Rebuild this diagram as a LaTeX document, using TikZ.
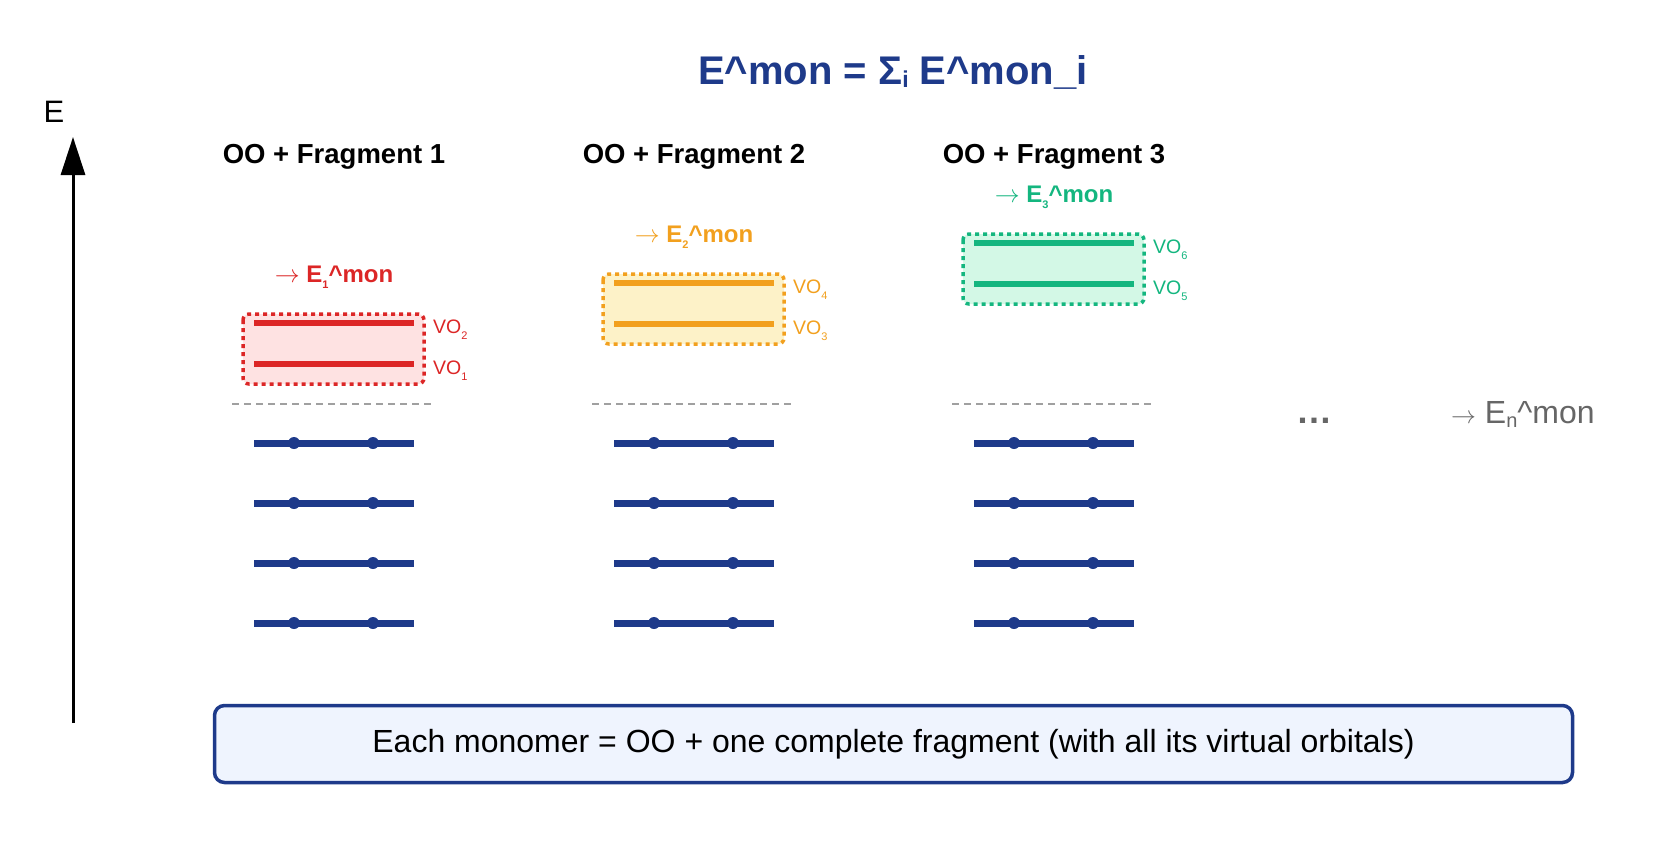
\documentclass[tikz,border=0pt]{standalone}
\usepackage{fontspec}
\setmainfont{Liberation Sans}
\usetikzlibrary{arrows.meta}
\definecolor{navy}{HTML}{1E3A8A}
\definecolor{c0}{HTML}{DC2626}
\definecolor{c0l}{HTML}{FEE2E2}
\definecolor{c1}{HTML}{F2A01E}
\definecolor{c1l}{HTML}{FDF2C8}
\definecolor{c2}{HTML}{14B67F}
\definecolor{c2l}{HTML}{D3F8E6}
\definecolor{sepgray}{HTML}{A0A0A0}
\definecolor{txtgray}{HTML}{666666}
\definecolor{notefill}{HTML}{EFF4FE}
\newcommand{\mysub}[3]{\raisebox{#1}{\fontsize{#2}{#2}\selectfont #3}}
\newcommand{\rarr}{\ensuremath{\rightarrow}}
\begin{document}
\begin{tikzpicture}[x=1pt,y=-1pt,
  titlestyle/.style={font=\fontsize{40}{42}\selectfont\bfseries, text=navy, inner sep=0pt},
  hdr/.style={font=\fontsize{27.5}{30}\selectfont\bfseries, inner sep=0pt},
  sublbl/.style={font=\fontsize{24}{26}\selectfont\bfseries, inner sep=0pt},
  volbl/.style={font=\fontsize{19.5}{21}\selectfont, inner sep=0pt, anchor=base west},
  orb/.style={line width=7pt, draw=navy},
  vobox/.style={line width=3.5pt, dash pattern=on 4pt off 4pt, rounded corners=6pt},
  sepline/.style={draw=sepgray, line width=1.6pt, dash pattern=on 6.5pt off 5.5pt},
  notebox/.style={draw=navy, line width=3.5pt, fill=notefill, rounded corners=10pt,
    minimum width=1358pt, minimum height=77pt, font=\fontsize{32}{35}\selectfont}
]
\path[use as bounding box, fill=white] (0,0) rectangle (1680,844);

% title
\node[titlestyle] (title) at (893,72) {E\textasciicircum mon = Σ\mysub{-3pt}{23}{i} E\textasciicircum mon\_i};

% energy axis
\node[font=\fontsize{31}{33}\selectfont, inner sep=0pt] (elabel) at (54,112) {E};
\coordinate (ax0) at (73,723);
\coordinate (ax1) at (73,137);
\draw[line width=3pt, -{Triangle[width=24pt,length=38pt]}] (ax0) -- (ax1);

% fragments
\foreach \kk/\num/\lo/\hi in {0/1/1/2, 1/2/3/4, 2/3/5/6}{
  \pgfmathsetmacro{\cx}{334+360*\kk}
  \pgfmathsetmacro{\ya}{323-40*\kk}
  \pgfmathsetmacro{\yb}{364-40*\kk}
  \pgfmathsetmacro{\ys}{277-40*\kk}
  \node[hdr] (h\kk) at (\cx,157) {OO + Fragment \num};
  \node[sublbl, text=c\kk] (s\kk) at (\cx,\ys) {\rarr{} E\mysub{-6pt}{11}{\num}\textasciicircum mon};
  \draw[vobox, draw=c\kk, fill=c\kk l] (\cx-91,\ya-9) rectangle (\cx+90,\yb+20);
  \draw[line width=6pt, c\kk] (\cx-80,\ya) -- (\cx+80,\ya);
  \draw[line width=6pt, c\kk] (\cx-80,\yb) -- (\cx+80,\yb);
  \node[volbl, text=c\kk] (vh\kk) at (\cx+99,\ya+10) {VO\mysub{-6pt}{11}{\hi}};
  \node[volbl, text=c\kk] (vl\kk) at (\cx+99,\yb+10) {VO\mysub{-6pt}{11}{\lo}};
  \draw[sepline] (\cx-102,404) -- (\cx+98,404);
  \foreach \y in {443,503,563,623}{
    \draw[orb] (\cx-80,\y) -- (\cx+80,\y);
    \fill[navy] (\cx-40,\y) circle (6);
    \fill[navy] (\cx+39,\y) circle (6);
  }
}

% continuation
\node[font=\fontsize{36}{38}\selectfont\bfseries, text=txtgray, inner sep=0pt] (dots) at (1314,421) {…};
\node[font=\fontsize{32}{34}\selectfont, text=txtgray, inner sep=0pt, anchor=west] (en) at (1451,414) {\rarr{} E\mysub{-4pt}{20}{n}\textasciicircum mon};

% note box
\node[notebox] (note) at (893.5,744) {Each monomer = OO + one complete fragment (with all its virtual orbitals)};
\end{tikzpicture}
\end{document}
